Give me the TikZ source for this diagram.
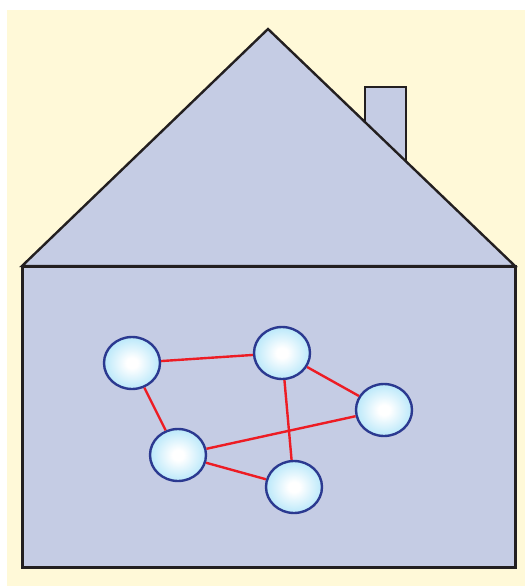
\documentclass[tikz,border=0pt]{standalone}
\usetikzlibrary{shapes.geometric}
\definecolor{cream}{HTML}{FFF9D8}
\definecolor{wall}{HTML}{C5CCE4}
\definecolor{edgeblue}{HTML}{2B3990}
\definecolor{cyanish}{HTML}{6FCFF4}
\definecolor{linkred}{HTML}{ED1C24}
\definecolor{outline}{HTML}{231F20}
\pgfdeclareradialshading{pcshade}{\pgfpoint{0bp}{0bp}}{color(0bp)=(white); color(5bp)=(white); color(28bp)=(cyanish!55!white); color(45bp)=(cyanish); color(60bp)=(cyanish)}
\tikzset{
  house/.style={fill=wall, draw=outline, line width=2.4pt, line join=miter},
  pc/.style={ellipse, draw=edgeblue, line width=2.4pt, minimum width=56pt, minimum height=52pt, inner sep=0pt, shading=pcshade},
  link/.style={draw=linkred, line width=2.4pt}
}
\begin{document}
\begin{tikzpicture}[x=1pt,y=-1pt]
\useasboundingbox (0,0) rectangle (525,586);
\fill[cream] (7,10) rectangle (525,586);
% chimney
\draw[house] (365,87) rectangle (406,175);
% roof
\draw[house] (22,266) -- (268,29) -- (515,266) -- cycle;
% body
\draw[house, line width=3pt] (22,266) rectangle (515,567);
% nodes
\node[pc] (a) at (132,363) {};
\node[pc] (b) at (282,353) {};
\node[pc] (c) at (384,410) {};
\node[pc] (d) at (178,455) {};
\node[pc] (e) at (294,487) {};
\path[link] (a) -- (b);
\path[link] (a) -- (d);
\path[link] (b) -- (c);
\path[link] (b) -- (e);
\path[link] (d) -- (c);
\path[link] (d) -- (e);
\end{tikzpicture}
\end{document}
